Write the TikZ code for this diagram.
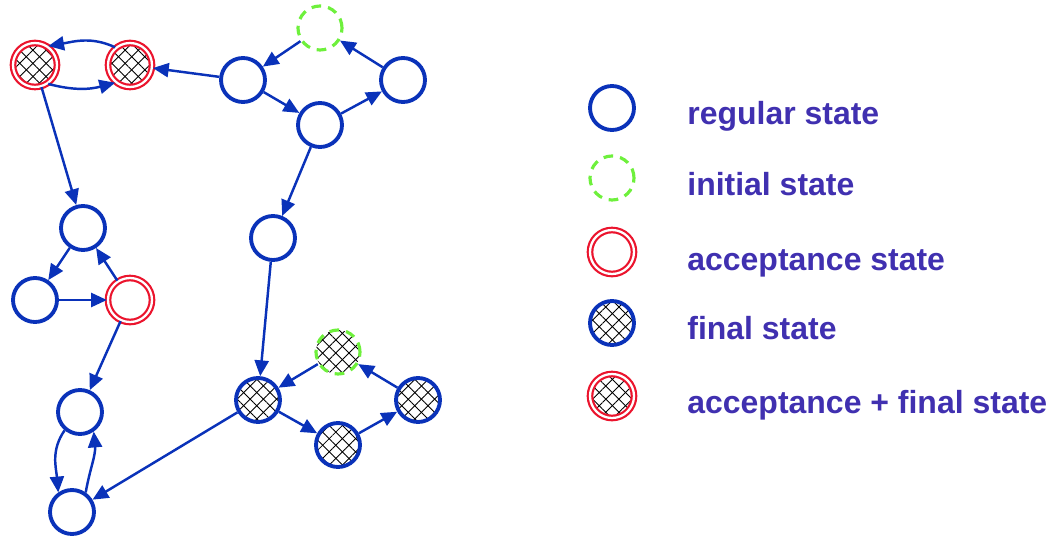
\documentclass[tikz,border=0pt]{standalone}
\usepackage{fontspec}
\setmainfont{Liberation Sans}
\usetikzlibrary{arrows.meta,patterns.meta}
\definecolor{stateblue}{RGB}{10,50,185}
\definecolor{initgreen}{RGB}{110,240,60}
\definecolor{acceptred}{RGB}{235,20,45}
\definecolor{legendtext}{RGB}{64,48,176}

\begin{document}
\begin{tikzpicture}[x=0.02cm, y=-0.02cm,
    state/.style={circle, minimum size=0.88cm, inner sep=0pt, line width=2.2pt, draw=stateblue},
    initstate/.style={state, draw=initgreen, dash pattern=on 5.5pt off 4pt, line width=1.8pt},
    acceptstate/.style={state, draw=acceptred, line width=1.25pt, double=white, double distance=1.3pt},
    hatched/.style={preaction={fill=white},
      preaction={pattern={Lines[angle=45,distance=5.3pt,line width=0.5pt]}},
      preaction={pattern={Lines[angle=-45,distance=5.3pt,line width=0.5pt]}}},
    finalstate/.style={state, hatched},
    trans/.style={-{Triangle[length=9pt,width=8pt]}, line width=1.4pt, draw=stateblue},
    legend/.style={anchor=base west, inner sep=0pt, text=legendtext, font=\bfseries\fontsize{18.2}{22}\selectfont}]
  \useasboundingbox (0,0) rectangle (1051,544);

  \node (accA) [acceptstate, hatched] at (35,65) {};
  \node (accB) [acceptstate, hatched] at (130,65) {};
  \node (topL) [state] at (243,80) {};
  \node (topInit) [initstate] at (320,28) {};
  \node (topR) [state] at (403,80) {};
  \node (topMid) [state] at (320,125) {};
  \node (midState) [state] at (273,238) {};

  \node (triTop) [state] at (83,228) {};
  \node (triL) [state] at (35,300) {};
  \node (triAcc) [acceptstate] at (130,300) {};
  \node (loopUp) [state] at (80,412) {};
  \node (loopDown) [state] at (72,512) {};

  \node (finL) [finalstate] at (258,400) {};
  \node (finInit) [initstate, hatched] at (338,352) {};
  \node (finR) [finalstate] at (418,400) {};
  \node (finB) [finalstate] at (338,445) {};

  \draw[trans] (topInit) -- (topL);
  \draw[trans] (topR) -- (topInit);
  \draw[trans] (topL) -- (topMid);
  \draw[trans] (topMid) -- (topR);
  \draw[trans] (topL) -- (accB);
  \draw[trans] (accB.130) to[out=155,in=10] (accA.55);
  \draw[trans] (accA.-55) to[out=-15,in=195] (accB.-130);
  \draw[trans] (accA) -- (triTop);
  \draw[trans] (topMid) -- (midState);
  \draw[trans] (midState) -- (finL);

  \draw[trans] (triTop) -- (triL);
  \draw[trans] (triL) -- (triAcc);
  \draw[trans] (triAcc) -- (triTop);
  \draw[trans] (triAcc) -- (loopUp);
  \draw[trans] (loopUp.-130) to[out=-125,in=95] (loopDown.125);
  \draw[trans] (loopDown.55) to[out=80,in=-85] (loopUp.-55);
  \draw[trans] (finL) -- (loopDown);

  \draw[trans] (finL) -- (finB);
  \draw[trans] (finB) -- (finR);
  \draw[trans] (finR) -- (finInit);
  \draw[trans] (finInit) -- (finL);

  \node (keyRegular) [state] at (612,108) {};
  \node (keyInit) [initstate] at (612,178) {};
  \node (keyAccept) [acceptstate] at (612,252) {};
  \node (keyFinal) [finalstate] at (612,323) {};
  \node (keyBoth) [acceptstate, hatched] at (612,396) {};

  \node (txtRegular) [legend] at (687,125) {regular state};
  \node (txtInit) [legend] at (687,195) {initial state};
  \node (txtAccept) [legend] at (687,270) {acceptance state};
  \node (txtFinal) [legend] at (687,339) {final state};
  \node (txtBoth) [legend] at (687,413) {acceptance + final state};
\end{tikzpicture}
\end{document}
